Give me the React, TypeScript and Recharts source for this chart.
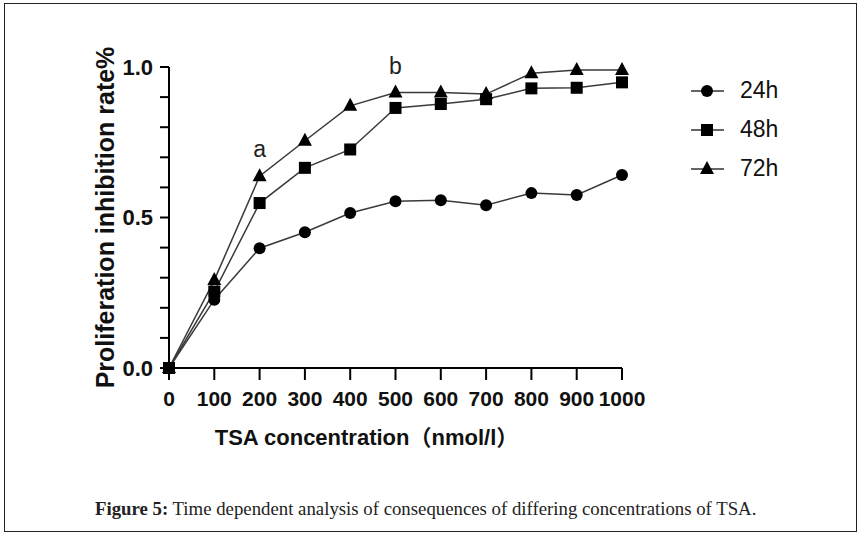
import { Line, LineChart, XAxis, YAxis } from "recharts";

const concentrations = [0, 100, 200, 300, 400, 500, 600, 700, 800, 900, 1000];
const rate24h = [0, 0.227, 0.398, 0.451, 0.515, 0.554, 0.557, 0.541, 0.581, 0.575, 0.641];
const rate48h = [0, 0.254, 0.548, 0.665, 0.726, 0.864, 0.877, 0.893, 0.929, 0.931, 0.949];
const rate72h = [0, 0.292, 0.637, 0.755, 0.871, 0.915, 0.915, 0.91, 0.979, 0.99, 0.99];
const marks72h = ["", "", "a", "", "", "b", "", "", "", "", ""];

const xTicks = [0, 100, 200, 300, 400, 500, 600, 700, 800, 900, 1000];
const yTicks = [0, 0.1, 0.2, 0.3, 0.4, 0.5, 0.6, 0.7, 0.8, 0.9, 1.0];

const series = [
  { key: "h24", name: "24h", shape: "circle" },
  { key: "h48", name: "48h", shape: "square" },
  { key: "h72", name: "72h", shape: "triangle" },
];

const data = concentrations.map((c, i) => ({
  conc: c,
  h24: rate24h[i],
  h48: rate48h[i],
  h72: rate72h[i],
}));

const FONT = "'Liberation Sans', Arial, 'Noto Sans CJK SC', sans-serif";

function Marker({ cx, cy, shape }: any) {
  if (cx == null || cy == null) return null;
  if (shape === "circle") return <circle cx={cx} cy={cy} r={6} fill="#000" />;
  if (shape === "square")
    return <rect x={cx - 6} y={cy - 6} width={12} height={12} fill="#000" />;
  return (
    <path
      d={`M${cx},${cy - 8} L${cx + 7},${cy + 5} L${cx - 7},${cy + 5} Z`}
      fill="#000"
    />
  );
}

// legend drawn by hand, the built-in one steals room from the plot
function LegendBox() {
  return (
    <div
      style={{
        position: "absolute",
        left: 690,
        top: 71,
        fontFamily: FONT,
      }}
    >
      {series.map((s) => (
        <div
          key={s.key}
          style={{ display: "flex", alignItems: "center", height: 39 }}
        >
          <svg width={36} height={20}>
            <line x1={1} y1={10} x2={34} y2={10} stroke="#333" strokeWidth={1.5} />
            <Marker cx={17} cy={10} shape={s.shape} />
          </svg>
          <span style={{ marginLeft: 14, fontSize: 23, color: "#111" }}>
            {s.name}
          </span>
        </div>
      ))}
    </div>
  );
}

const fmtY = (v: number) =>
  Math.abs(v * 2 - Math.round(v * 2)) < 1e-6 ? v.toFixed(1) : "";

export default function App() {
  return (
    <div
      style={{
        position: "absolute",
        left: 0,
        top: 0,
        width: 861,
        height: 536,
        background: "#fff",
      }}
    >
      <div
        style={{
          position: "absolute",
          left: 4,
          top: 3,
          width: 851,
          height: 527,
          border: "1.5px solid #222",
        }}
      />
      <LineChart
        width={861}
        height={536}
        data={data}
        margin={{ top: 67, right: 239, bottom: 108, left: 109 }}
        style={{ fontFamily: FONT }}
      >
        <XAxis
          dataKey="conc"
          type="number"
          domain={[0, 1000]}
          ticks={xTicks}
          interval={0}
          height={60}
          tickSize={12}
          tickMargin={11}
          axisLine={{ stroke: "#000", strokeWidth: 2 }}
          tickLine={{ stroke: "#000", strokeWidth: 2 }}
          tick={{ fill: "#111", fontSize: 21, fontWeight: "bold" }}
          label={{
            value: "TSA concentration（nmol/l）",
            position: "center",
            dx: -29,
            dy: 39,
            fill: "#111",
            fontSize: 22,
            fontWeight: "bold",
          }}
        />
        <YAxis
          type="number"
          domain={[0, 1]}
          ticks={yTicks}
          interval={0}
          width={60}
          tickSize={9}
          tickMargin={7}
          tickFormatter={fmtY}
          axisLine={{ stroke: "#000", strokeWidth: 2 }}
          tickLine={{ stroke: "#000", strokeWidth: 2 }}
          tick={{ fill: "#111", fontSize: 22, fontWeight: "bold" }}
          label={{
            value: "Proliferation inhibition rate%",
            position: "center",
            angle: -90,
            dx: -34,
            fill: "#111",
            fontSize: 25,
            fontWeight: "bold",
          }}
        />
        {series.map((s) => (
          <Line
            key={s.key}
            dataKey={s.key}
            name={s.name}
            type="linear"
            stroke="#3a3a3a"
            strokeWidth={1.5}
            isAnimationActive={false}
            dot={(p: any) => <Marker key={`${s.key}-${p.index}`} {...p} shape={s.shape} />}
            label={
              s.key === "h72"
                ? (p: any) =>
                    marks72h[p.index] ? (
                      <text
                        key={`m-${p.index}`}
                        x={p.x}
                        y={p.y - 19}
                        textAnchor="middle"
                        fontSize={23}
                        fill="#222"
                        fontFamily={FONT}
                      >
                        {marks72h[p.index]}
                      </text>
                    ) : null
                : false
            }
          />
        ))}
      </LineChart>
      <LegendBox />
      <div
        style={{
          position: "absolute",
          left: 95,
          top: 498,
          fontFamily: "'Liberation Serif', 'Times New Roman', serif",
          fontSize: 18.8,
          color: "#222",
          whiteSpace: "nowrap",
        }}
      >
        <b>Figure 5:</b> Time dependent analysis of consequences of differing
        concentrations of TSA.
      </div>
    </div>
  );
}
